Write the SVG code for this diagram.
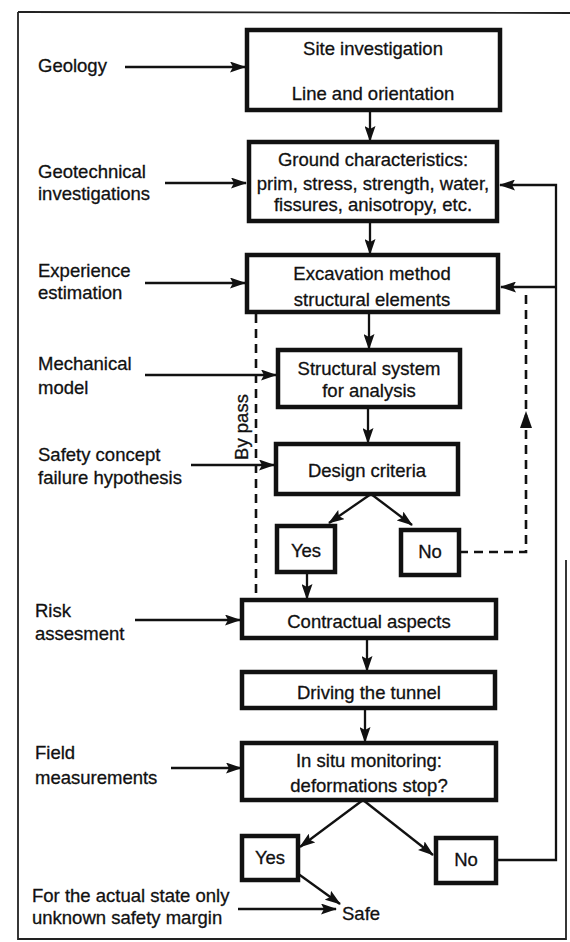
<svg xmlns="http://www.w3.org/2000/svg" width="570" height="942" viewBox="0 0 570 942">
<style>
text{font-family:"Liberation Sans",Arial,sans-serif;font-size:18.5px;fill:#111;stroke:#111;stroke-width:0.3}
.c{text-anchor:middle}
.box{fill:#fff;stroke:#111;stroke-width:4.5}
.ln{fill:none;stroke:#111;stroke-width:2.3}
.ds{fill:none;stroke:#111;stroke-width:2.6;stroke-dasharray:9,6}
.fr{fill:none;stroke:#222;stroke-width:1.8}
</style>
<defs>
<marker id="ah" markerUnits="userSpaceOnUse" markerWidth="16" markerHeight="11" refX="15" refY="5.5" orient="auto">
<path d="M0,0 L16,5.5 L0,11 L3,5.5 z" fill="#111"/>
</marker>
</defs>
<rect width="570" height="942" fill="#fff"/>
<g id="frame">
<path class="fr" d="M18,12 L570,13"/>
<path class="fr" d="M18,12 L18,939 L566,939 L566,560"/>
</g>
<g id="connectors">
<path class="ln" marker-end="url(#ah)" d="M125,67 L245,67"/>
<path class="ln" marker-end="url(#ah)" d="M165,183 L246,183"/>
<path class="ln" marker-end="url(#ah)" d="M145,283 L245,283"/>
<path class="ln" marker-end="url(#ah)" d="M145,375 L276,375"/>
<path class="ln" marker-end="url(#ah)" d="M191,465 L274,465"/>
<path class="ln" marker-end="url(#ah)" d="M135,620 L240,620"/>
<path class="ln" marker-end="url(#ah)" d="M171,768 L241,768"/>
<path class="ln" marker-end="url(#ah)" d="M238,909 L336,909"/>
<path class="ln" marker-end="url(#ah)" d="M370,110 L370,141"/>
<path class="ln" marker-end="url(#ah)" d="M370,221 L370,254"/>
<path class="ln" marker-end="url(#ah)" d="M369,312 L369,349"/>
<path class="ln" marker-end="url(#ah)" d="M368,407 L368,443"/>
<path class="ln" marker-end="url(#ah)" d="M307,572 L307,599"/>
<path class="ln" marker-end="url(#ah)" d="M367,638 L367,671"/>
<path class="ln" marker-end="url(#ah)" d="M365,708 L365,742"/>
<path class="ln" marker-end="url(#ah)" d="M371,494 L329,523"/>
<path class="ln" marker-end="url(#ah)" d="M371,494 L412,525"/>
<path class="ln" marker-end="url(#ah)" d="M363,800 L300,847"/>
<path class="ln" marker-end="url(#ah)" d="M363,800 L433,855"/>
<path class="ln" marker-end="url(#ah)" d="M297,873 L340,904"/>
<path class="ln" marker-end="url(#ah)" d="M496,860 L556,860 L556,185 L500,185"/>
<path class="ln" marker-end="url(#ah)" d="M556,287 L501,287"/>
<path class="ds" d="M459,552 L526,552 L526,290"/>
<path d="M526,411 L520,428 L532,428 z" fill="#111"/>
<path class="ds" d="M256,314 L256,600"/>
<text transform="translate(248,427) rotate(-90)" class="c">By pass</text>
</g>
<g id="site">
<rect class="box" x="247" y="30" width="253" height="80"/>
<text class="c" x="373" y="55">Site investigation</text>
<text class="c" x="373" y="100">Line and orientation</text>
</g>
<g id="ground">
<rect class="box" x="249" y="142" width="248" height="79"/>
<text class="c" x="373" y="166">Ground characteristics:</text>
<text class="c" x="373" y="190">prim, stress, strength, water,</text>
<text class="c" x="373" y="211">fissures, anisotropy, etc.</text>
</g>
<g id="excavation">
<rect class="box" x="247" y="255" width="251" height="57"/>
<text class="c" x="372" y="280">Excavation method</text>
<text class="c" x="372" y="306">structural elements</text>
</g>
<g id="structural">
<rect class="box" x="278" y="350" width="182" height="57"/>
<text class="c" x="369" y="375">Structural system</text>
<text class="c" x="369" y="397">for analysis</text>
</g>
<g id="design">
<rect class="box" x="276" y="444" width="182" height="50"/>
<text class="c" x="367" y="477">Design criteria</text>
</g>
<g id="yes1">
<rect class="box" x="277" y="526" width="58" height="46"/>
<text class="c" x="306" y="557">Yes</text>
</g>
<g id="no1">
<rect class="box" x="401" y="530" width="58" height="45"/>
<text class="c" x="430" y="558">No</text>
</g>
<g id="contractual">
<rect class="box" x="242" y="600" width="254" height="38"/>
<text class="c" x="369" y="628">Contractual aspects</text>
</g>
<g id="driving">
<rect class="box" x="242" y="672" width="253" height="36"/>
<text class="c" x="369" y="699">Driving the tunnel</text>
</g>
<g id="monitoring">
<rect class="box" x="242" y="743" width="254" height="57"/>
<text class="c" x="369" y="767">In situ monitoring:</text>
<text class="c" x="369" y="792">deformations stop?</text>
</g>
<g id="yes2">
<rect class="box" x="242" y="836" width="56" height="44"/>
<text class="c" x="270" y="864">Yes</text>
</g>
<g id="no2">
<rect class="box" x="436" y="838" width="60" height="45"/>
<text class="c" x="466" y="866">No</text>
</g>
<g id="safe"><text x="342" y="920">Safe</text></g>
<g id="labels">
<text x="38" y="72">Geology</text>
<text x="38" y="178">Geotechnical</text>
<text x="38" y="200">investigations</text>
<text x="38" y="277">Experience</text>
<text x="38" y="299">estimation</text>
<text x="38" y="370">Mechanical</text>
<text x="38" y="394">model</text>
<text x="38" y="461">Safety concept</text>
<text x="38" y="484">failure hypothesis</text>
<text x="35" y="617">Risk</text>
<text x="35" y="640">assesment</text>
<text x="35" y="759">Field</text>
<text x="35" y="784">measurements</text>
<text x="32" y="902">For the actual state only</text>
<text x="32" y="924">unknown safety margin</text>
</g>
</svg>
